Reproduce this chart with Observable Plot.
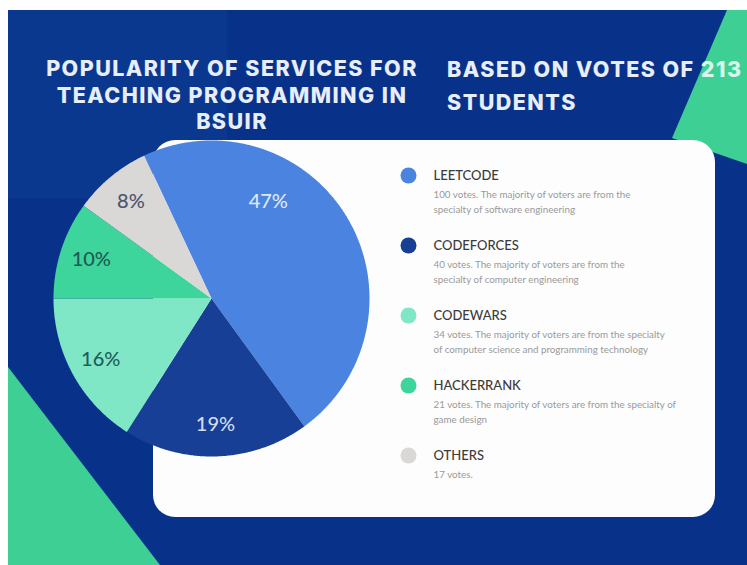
<!DOCTYPE html>
<html>
<head>
<meta charset="utf-8">
<script src="https://cdn.jsdelivr.net/npm/d3@7"></script>
<script src="https://cdn.jsdelivr.net/npm/@observablehq/plot@0.6"></script>
<style>
  html, body { margin: 0; padding: 0; background: #ffffff; }
  #page { position: relative; width: 747px; height: 565px; overflow: hidden; background: #ffffff; }
  .layer { position: absolute; }
  #bg { left: 8px; top: 10px; width: 739px; height: 555px; background: #08328a; }
  #bgTL { left: 8px; top: 10px; width: 219px; height: 188px; background: #0b388f; }
  #greenTR { left: 0; top: 0; width: 747px; height: 565px; background: #3ecf95;
    clip-path: polygon(727px 10px, 747px 10px, 747px 164px, 672px 138px); }
  #greenBL { left: 0; top: 0; width: 747px; height: 565px; background: #3ecf95;
    clip-path: polygon(8px 367px, 8px 565px, 160px 565px); }
  #card { left: 153px; top: 140px; width: 562px; height: 377px; background: #fdfdfd; border-radius: 22px; }
  .head { position: absolute; font-family: Inter, "Noto Sans", sans-serif; font-weight: 800;
    font-size: 21.5px; color: #e8eef9; letter-spacing: 1.45px; white-space: nowrap; }
  #title { left: 20px; top: 55px; width: 424px; text-align: center; line-height: 26.5px; }
  #subtitle { left: 447px; top: 53px; width: 320px; text-align: left; line-height: 33px; }
  #pie { position: absolute; left: 41px; top: 128px; }
  #legend { position: absolute; left: 395px; top: 140px; }
</style>
</head>
<body>
<div id="page">
  <div class="layer" id="bg"></div>
  <div class="layer" id="bgTL"></div>
  <div class="layer" id="greenTR"></div>
  <div class="layer" id="greenBL"></div>
  <div class="layer" id="card"></div>
  <div class="head" id="title">POPULARITY OF SERVICES FOR<br>TEACHING PROGRAMMING IN<br>BSUIR</div>
  <div class="head" id="subtitle">BASED ON VOTES OF <span style="color:#d6f7ea">213</span><br>STUDENTS</div>
  <div id="pie"></div>
  <div id="legend"></div>
</div>
<script>
// ---- data ----
const names = ["LEETCODE", "CODEFORCES", "CODEWARS", "HACKERRANK", "OTHERS"];
const percents = [47, 19, 16, 10, 8];
const votes = [100, 40, 34, 21, 17];
const descriptions = [
  "100 votes. The majority of voters are from the\nspecialty of software engineering",
  "40 votes. The majority of voters are from the\nspecialty of computer engineering",
  "34 votes. The majority of voters are from the specialty\nof computer science and programming technology",
  "21 votes. The majority of voters are from the specialty of\ngame design",
  "17 votes."
];
const sliceColors = ["#4a84e0", "#163f95", "#7fe7c6", "#3dd59b", "#dad8d6"];
const labelColors = ["#dfe8f8", "#d2dcf0", "#1f5d5c", "#1c5a56", "#4b5570"];

// ---- pie geometry built from the percentages ----
const startDeg = -25.2;
const total = d3.sum(percents);
const slices = [];
let acc = startDeg;
names.forEach((n, i) => {
  const a0 = acc, a1 = acc + percents[i] / total * 360;
  acc = a1;
  slices.push({name: n, a0, a1, mid: (a0 + a1) / 2, pct: percents[i], i});
});
const piePts = [];
for (const s of slices) {
  piePts.push({name: s.name, x: 0, y: 0});
  const steps = Math.max(2, Math.ceil((s.a1 - s.a0) / 0.5));
  for (let k = 0; k <= steps; k++) {
    const a = (s.a0 + (s.a1 - s.a0) * k / steps) * Math.PI / 180;
    piePts.push({name: s.name, x: Math.sin(a), y: Math.cos(a)});
  }
}
const labelR = 0.8;
const labels = slices.map(s => {
  const a = s.mid * Math.PI / 180;
  return {name: s.name, x: labelR * Math.sin(a), y: labelR * Math.cos(a), text: s.pct + "%", color: labelColors[s.i]};
});

const labelFont = "Lato, Inter, sans-serif";
const pie = Plot.plot({
  width: 340, height: 340, margin: 12,
  x: {domain: [-1, 1], axis: null},
  y: {domain: [-1, 1], axis: null},
  color: {domain: names, range: sliceColors},
  style: {background: "transparent", overflow: "visible"},
  marks: [
    Plot.line(piePts, {x: "x", y: "y", z: "name", fill: "name", stroke: null, curve: "linear-closed"}),
    Plot.text(labels.slice(1), {x: "x", y: "y", text: "text", fill: d => d.color,
      fontSize: 20, fontWeight: 500, fontFamily: labelFont}),
    Plot.text(labels.slice(0, 1), {x: "x", y: "y", text: "text", fill: d => d.color,
      fontSize: 20, fontWeight: 500, fontFamily: labelFont, dx: -52, dy: -33})
  ]
});
document.getElementById("pie").appendChild(pie);

// ---- legend ----
const legendData = names.map((n, i) => ({name: n, desc: descriptions[i], votes: votes[i]}));
const legend = Plot.plot({
  width: 320, height: 360, margin: 0,
  y: {type: "point", domain: names, range: [35, 315], padding: 0, axis: null},
  color: {domain: names, range: sliceColors},
  style: {background: "transparent", overflow: "visible"},
  marks: [
    Plot.dot(legendData, {y: "name", fill: "name", r: 8, frameAnchor: "left", dx: 13}),
    Plot.text(legendData, {y: "name", text: "name", frameAnchor: "left", dx: 38, textAnchor: "start",
      fontSize: 13, fontWeight: 500, fill: "#3b3b3b", fontFamily: "Lato, Inter, sans-serif",
      style: "letter-spacing:1.4px"}),
    Plot.text(legendData, {y: "name", text: "desc", frameAnchor: "left", dx: 38, dy: 12, textAnchor: "start",
      lineAnchor: "top", lineHeight: 1.5, fontSize: 9.8, fill: "#9a9a9a", fontFamily: "Lato, Inter, sans-serif"})
  ]
});
document.getElementById("legend").appendChild(legend);
</script>
</body>
</html>
